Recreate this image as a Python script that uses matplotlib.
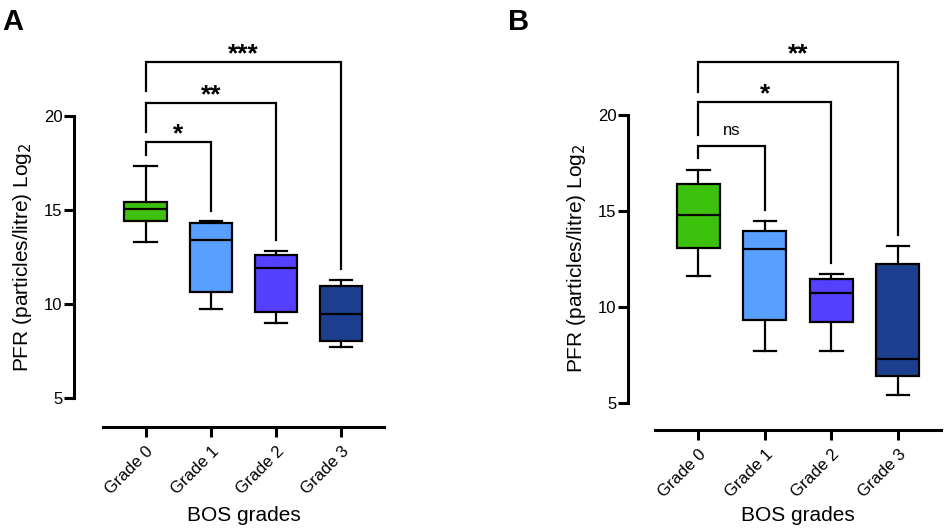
import matplotlib
matplotlib.use("Agg")
import matplotlib.pyplot as plt
from matplotlib import transforms

plt.rcParams['font.family'] = ['Liberation Sans', 'DejaVu Sans']

# Categorias y colores de cada caja
grados = ["Grade 0", "Grade 1", "Grade 2", "Grade 3"]
colores = ["#3cc10c", "#58a0ff", "#5540ff", "#1c3f8f"]

# Panel A: resumen de cada caja (min, Q1, mediana, Q3, max)
a_min = [13.28, 9.72, 9.00, 7.71]
a_q1 = [14.43, 10.66, 9.56, 8.06]
a_med = [15.05, 13.40, 11.93, 9.46]
a_q3 = [15.40, 14.30, 12.59, 10.98]
a_max = [17.35, 14.41, 12.80, 11.26]
# Corchetes de significancia (Grade 0 contra Grade 1, 2, 3)
a_sig = ["*", "**", "***"]
a_altura = [18.58, 20.69, 22.85]
a_pata_izq = [17.91, 19.15, 21.31]
a_pata_der = [14.96, 13.40, 11.85]

# Panel B
b_min = [11.58, 7.71, 7.71, 5.41]
b_q1 = [13.08, 9.33, 9.23, 6.41]
b_med = [14.78, 13.03, 10.71, 7.28]
b_q3 = [16.41, 13.95, 11.47, 12.25]
b_max = [17.15, 14.46, 11.70, 13.17]
b_sig = ["ns", "*", "**"]
b_altura = [18.39, 20.69, 22.76]
b_pata_izq = [17.74, 18.97, 21.22]
b_pata_der = [15.03, 12.30, 13.76]


def dibujar(ax, mins, q1s, meds, q3s, maxs, sig, altura, pata_izq, pata_der,
            xlim, ylim_min, borde_x, pos_ylabel, pos_xlabel):
    stats = []
    for i in range(len(grados)):
        stats.append({"whislo": mins[i], "q1": q1s[i], "med": meds[i],
                      "q3": q3s[i], "whishi": maxs[i], "fliers": []})
    cajas = ax.bxp(stats, positions=range(len(grados)), widths=0.65,
                   capwidths=0.34, patch_artist=True, showfliers=False,
                   boxprops=dict(linewidth=1.6, edgecolor="black"),
                   whiskerprops=dict(linewidth=1.6, color="black"),
                   capprops=dict(linewidth=1.6, color="black"),
                   medianprops=dict(linewidth=1.6, color="black"))
    for caja, c in zip(cajas["boxes"], colores):
        caja.set_facecolor(c)

    # Corchetes con su nivel de significancia
    for j in range(len(sig)):
        x2 = j + 1
        ax.plot([0, 0, x2, x2], [pata_izq[j], altura[j], altura[j], pata_der[j]],
                color="black", lw=1.6, clip_on=False, solid_joinstyle="miter")
        if sig[j] == "ns":
            ax.annotate(sig[j], xy=(x2 / 2, altura[j]), xytext=(0, 6),
                        textcoords="offset points", ha="center", va="bottom",
                        fontsize=12, annotation_clip=False)
        else:
            ax.annotate(sig[j], xy=(x2 / 2, altura[j]), xytext=(0, -3),
                        textcoords="offset points", ha="center", va="bottom",
                        fontsize=19, fontweight="bold", annotation_clip=False)

    ax.set_xlim(*xlim)
    ax.set_ylim(ylim_min, 20)
    ax.set_yticks([5, 10, 15, 20])
    ax.set_xticks(range(len(grados)))
    ax.set_xticklabels(grados, rotation=45, ha="right", va="top",
                       rotation_mode="anchor", fontsize=12)
    ax.spines["top"].set_visible(False)
    ax.spines["right"].set_visible(False)
    ax.spines["left"].set_bounds(5, 20)
    ax.spines["bottom"].set_bounds(borde_x, xlim[1])
    ax.spines["left"].set_linewidth(2.2)
    ax.spines["bottom"].set_linewidth(2.2)
    ax.tick_params(width=2.2, length=7)
    ax.tick_params(axis="y", pad=1.5, labelsize=12)
    ax.tick_params(axis="x", pad=5)

    ax.set_ylabel("PFR (particles/litre) Log$_2$", fontsize=15)
    trans_y = transforms.blended_transform_factory(ax.transAxes, ax.transData)
    ax.yaxis.set_label_coords(pos_ylabel, 12.5, transform=trans_y)
    ax.set_xlabel("BOS grades", fontsize=15)
    trans_x = transforms.blended_transform_factory(ax.transData, ax.transAxes)
    ax.xaxis.set_label_coords(1.5, pos_xlabel, transform=trans_x)


fig = plt.figure(figsize=(9.44, 5.32), dpi=100)
ax_a = fig.add_axes([0.0789, 0.1979, 0.3282, 0.5846])
ax_b = fig.add_axes([0.6656, 0.1917, 0.3309, 0.5921])

dibujar(ax_a, a_min, a_q1, a_med, a_q3, a_max, a_sig, a_altura, a_pata_izq, a_pata_der,
        (-1.09, 3.66), 3.50, -0.656, -0.131, -0.255)
dibujar(ax_b, b_min, b_q1, b_med, b_q3, b_max, b_sig, b_altura, b_pata_izq, b_pata_der,
        (-1.053, 3.645), 3.57, -0.651, -0.13, -0.242)

fig.text(2 / 944, 1 - 8 / 532, "A", fontsize=21, fontweight="bold", va="top", ha="left")
fig.text(508 / 944, 1 - 8 / 532, "B", fontsize=21, fontweight="bold", va="top", ha="left")

fig.savefig("out.png", dpi=100)
